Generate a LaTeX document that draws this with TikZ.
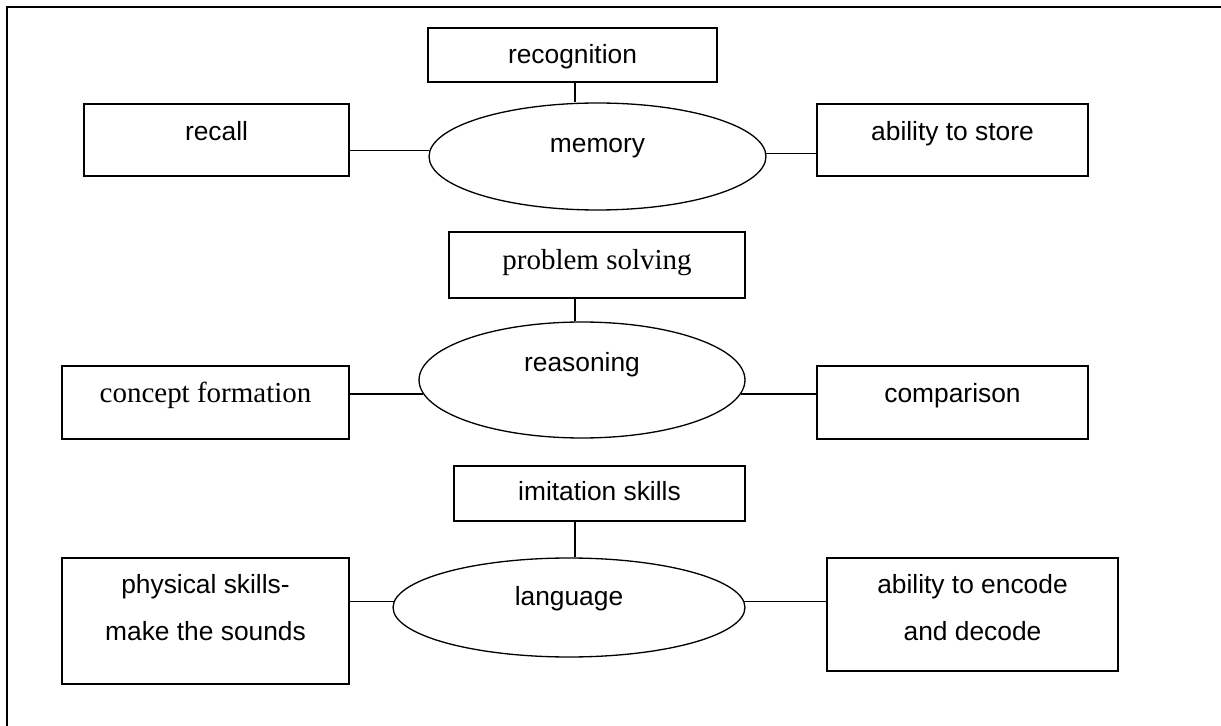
\documentclass[tikz,border=0pt]{standalone}
\usepackage{fontspec}
\setmainfont{Liberation Sans}
\newfontfamily\timesfont{Liberation Serif}
\usetikzlibrary{shapes.geometric}
\renewcommand{\arraystretch}{1.48}

\tikzset{
  box/.style={draw,line width=0.75pt,font=\fontsize{15}{18}\selectfont,text height=11pt,text depth=#1},
  oval/.style={box=#1,ellipse},
  serif/.style={font=\timesfont\fontsize{16.5}{19}\selectfont},
  link/.style={line width=0.75pt},
}

\begin{document}
\begin{tikzpicture}[x=0.02cm,y=-0.02cm]

\useasboundingbox (0,0) rectangle (1221,726) ;

\draw[line width=1pt] (7,726) -- (7,7) -- (1221,7) ;

\coordinate (spine) at (575,0) ;

\node[box=0.8pt,minimum width=5.78cm,minimum height=1.08cm] (recognition) at (572.5,55) {recognition} ;
\node[oval=15.6pt,minimum width=6.74cm,minimum height=2.14cm] (memory) at (597.5,156.5) {memory} ;
\node[box=10pt,minimum width=5.30cm,minimum height=1.44cm] (recall) at (216.5,140) {recall} ;
\node[box=10pt,minimum width=5.42cm,minimum height=1.44cm] (store) at (952.5,140) {ability to store} ;

\draw[link] (spine |- recognition.south) -- (spine |- memory.north) ;
\draw[link] (memory.178) -- (memory.178 -| recall.east) ;
\draw[link] (memory.1) -- (memory.1 -| store.west) ;

\node[box=6.4pt,serif,minimum width=5.92cm,minimum height=1.32cm] (problem) at (597,265) {problem solving} ;
\node[oval=20.4pt,minimum width=6.52cm,minimum height=2.32cm] (reasoning) at (582,380) {reasoning} ;
\node[box=11pt,serif,minimum width=5.74cm,minimum height=1.46cm] (concept) at (205.5,402.5) {concept formation} ;
\node[box=11pt,minimum width=5.42cm,minimum height=1.46cm] (comparison) at (952.5,402.5) {comparison} ;

\draw[link] (spine |- problem.south) -- (spine |- reasoning.north) ;
\draw[link] (reasoning.185) -- (reasoning.185 -| concept.east) ;
\draw[link] (reasoning.355) -- (reasoning.355 -| comparison.west) ;

\node[box=3pt,minimum width=5.82cm,minimum height=1.10cm] (imitation) at (599.5,493.5) {imitation skills} ;
\node[oval=13.8pt,minimum width=7.04cm,minimum height=1.98cm] (language) at (569,607.5) {language} ;
\node[box=15.6pt,text height=38pt,minimum width=5.74cm,minimum height=2.52cm] (physical) at (205.5,621)
  {\begin{tabular}[b]{@{}c@{}}physical skills-\\make the sounds\end{tabular}} ;
\node[box=8.2pt,text height=38pt,minimum width=5.82cm,minimum height=2.26cm] (encode) at (972.5,614.5)
  {\begin{tabular}[b]{@{}c@{}}ability to encode\\and decode\end{tabular}} ;

\draw[link] (spine |- imitation.south) -- (spine |- language.north) ;
\draw[link] (language.178) -- (language.178 -| physical.east) ;
\draw[link] (language.2) -- (language.2 -| encode.west) ;

\end{tikzpicture}
\end{document}
